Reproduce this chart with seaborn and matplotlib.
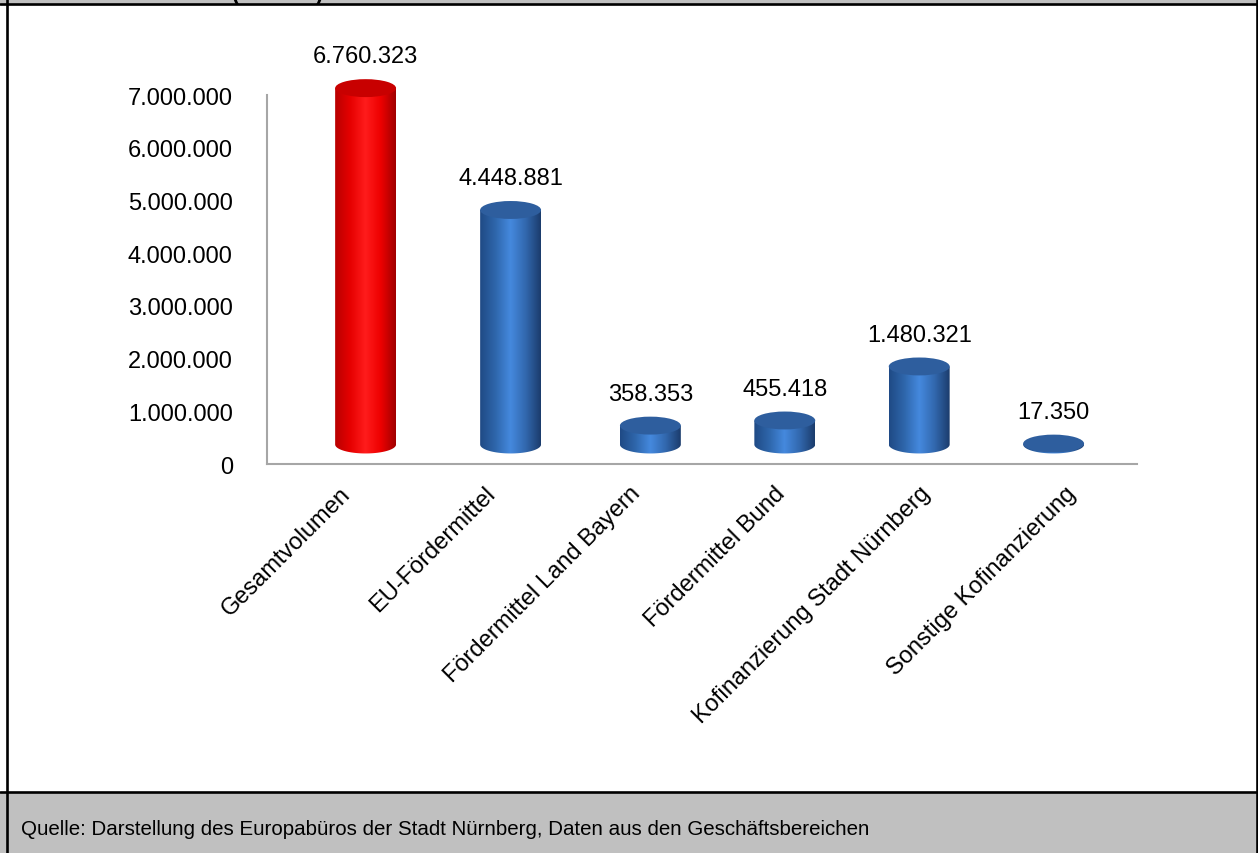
import numpy as np
import seaborn as sns
import matplotlib.pyplot as plt
from matplotlib.patches import Ellipse, Polygon, Rectangle
from matplotlib.lines import Line2D
from matplotlib.colors import LinearSegmentedColormap

# Finanzierungsvolumen in Euro
kategorien = ['Gesamtvolumen', 'EU-Fördermittel', 'Fördermittel Land Bayern',
              'Fördermittel Bund', 'Kofinanzierung Stadt Nürnberg',
              'Sonstige Kofinanzierung']
werte = [6760323, 4448881, 358353, 455418, 1480321, 17350]
wert_labels = ['6.760.323', '4.448.881', '358.353', '455.418', '1.480.321', '17.350']
y_ticks = [0, 1000000, 2000000, 3000000, 4000000, 5000000, 6000000, 7000000]
quelle = 'Quelle: Darstellung des Europabüros der Stadt Nürnberg, Daten aus den Geschäftsbereichen'

sns.set_style('white')
plt.rcParams['font.family'] = ['Liberation Sans', 'DejaVu Sans']
plt.rcParams['text.color'] = 'black'
plt.rcParams['xtick.labelcolor'] = 'black'
plt.rcParams['ytick.labelcolor'] = 'black'

W, H = 1258, 854
fig = plt.figure(figsize=(W / 100, H / 100), dpi=100)

# rahmen / kopf- und fusszeile
grau = '#c0c0c0'
fig.patches.append(Rectangle((0, 0), 1, 60 / H, transform=fig.transFigure, color=grau, zorder=0))
fig.patches.append(Rectangle((0, 1 - 5 / H), 1, 5 / H, transform=fig.transFigure, color=grau, zorder=0))
for xs, ys in [([0, 1], [1 - 5 / H] * 2), ([0, 1], [61 / H] * 2),
               ([7 / W] * 2, [0, 1]), ([1256.5 / W] * 2, [0, 1])]:
    fig.lines.append(Line2D(xs, ys, transform=fig.transFigure, color='black', lw=1.9, zorder=5))
# titel ist im original oben abgeschnitten
fig.text(232 / W, 1.0, '(in Euro)', fontsize=16, fontweight='bold', va='baseline', ha='left')
fig.text(21 / W, 1 - 830 / H, quelle, fontsize=14.8, va='center', ha='left')

# achse: 0 bei y=465 px, 7 Mio bei y=96 px
px_per_m = 369 / 7.0
ymax = 7.6
ax = fig.add_axes([267 / W, 1 - 465 / H, 870 / W, ymax * px_per_m / H])

palette = ['#ff0000'] + ['#3a78c8'] * 5
sns.barplot(x=kategorien, y=werte, hue=kategorien, palette=palette, width=0.42,
            legend=False, ax=ax)

basis = 370000      # 3D-Boden
ell_h = 340000      # Ellipsenhöhe
cm_rot = LinearSegmentedColormap.from_list('rot', ['#b80000', '#e60000', '#ff1c1c', '#ee0000', '#a00000'])
cm_blau = LinearSegmentedColormap.from_list('blau', ['#1f4a85', '#2e66ab', '#4589de', '#3268ae', '#1b3c6c'])
grad = np.linspace(0, 1, 256).reshape(1, -1)

for i, p in enumerate(ax.patches):
    w = p.get_width()
    h = p.get_height()
    x0 = p.get_x() + min(0.18, 0.29 - 0.073 * i)   # perspektivischer Versatz
    p.set_visible(False)
    cx = x0 + w / 2
    cmap = cm_rot if i == 0 else cm_blau
    theta = np.linspace(np.pi, 2 * np.pi, 60)
    bottom_arc = np.column_stack([cx + w / 2 * np.cos(theta), basis + ell_h / 2 * np.sin(theta)])
    verts = np.vstack([[x0, basis + h], bottom_arc, [x0 + w, basis + h]])
    clip = Polygon(verts, closed=True, transform=ax.transData, facecolor='none', edgecolor='none')
    ax.add_patch(clip)
    img = ax.imshow(grad, extent=[x0, x0 + w, basis - ell_h, basis + h], aspect='auto',
                    cmap=cmap, zorder=2, interpolation='bilinear')
    img.set_clip_path(clip)
    top_col = '#c80000' if i == 0 else '#2e5e9e'
    ax.add_patch(Ellipse((cx, basis + h), w, ell_h, facecolor=top_col, edgecolor='none', zorder=3))
    ax.annotate(wert_labels[i], (cx, basis + h), xytext=(0, 23), textcoords='offset points',
                ha='center', va='center', fontsize=17)

ax.set_xlim(-0.5, 5.5)
ax.set_ylim(0, ymax * 1e6)
ax.set_yticks(y_ticks)
ax.set_yticklabels([f'{v:,.0f}'.replace(',', '.') for v in y_ticks])
ax.set_xticks(np.arange(-0.5, 6, 1))
ax.set_xticklabels([])
ax.set_xticks(range(len(kategorien)), minor=True)
ax.set_xticklabels(kategorien, minor=True, rotation=45, ha='right', rotation_mode='anchor')
ax.tick_params(axis='x', which='major', length=5.5, width=1.3, color='#a6a6a6', direction='out')
ax.tick_params(axis='x', which='minor', length=0, pad=13, labelsize=17)
ax.tick_params(axis='y', length=3.6, width=1.3, color='#a6a6a6', direction='out', pad=21, labelsize=17)
for s in ['top', 'right']:
    ax.spines[s].set_visible(False)
for s in ['left', 'bottom']:
    ax.spines[s].set_color('#a6a6a6')
    ax.spines[s].set_linewidth(1.5)
ax.spines['left'].set_bounds(0, 7e6)
ax.set_facecolor('none')

fig.savefig('out.png', dpi=100)
